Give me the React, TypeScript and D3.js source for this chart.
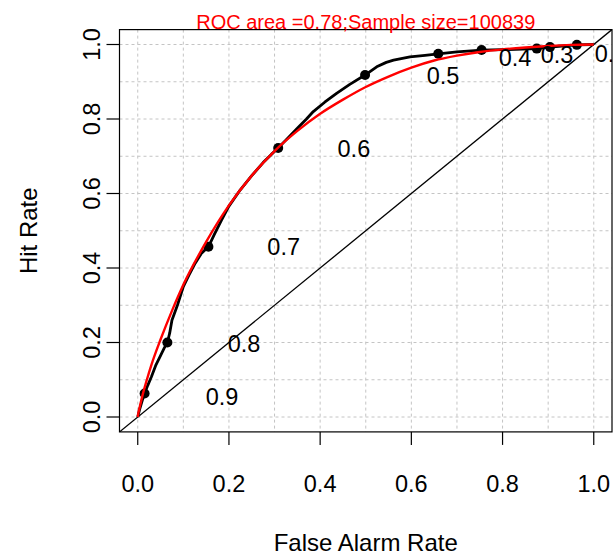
import React from "react";
import * as d3 from "d3";

// ---- data ----
const titleText = "ROC area =0.78;Sample size=100839";
const xAxisTitle = "False Alarm Rate";
const yAxisTitle = "Hit Rate";
const tickValues = [0, 0.2, 0.4, 0.6, 0.8, 1.0];
const gridValues = [0, 0.1, 0.2, 0.3, 0.4, 0.5, 0.6, 0.7, 0.8, 0.9, 1.0];

// empirical ROC (false alarm rate, hit rate)
const empiricalFAR = [0, 0.004, 0.01, 0.015, 0.022, 0.03, 0.04, 0.05, 0.058, 0.065, 0.07, 0.075, 0.087, 0.1, 0.112, 0.126, 0.14, 0.155, 0.168, 0.184, 0.2, 0.225, 0.25, 0.275, 0.293, 0.308, 0.33, 0.35, 0.37, 0.385, 0.41, 0.436, 0.465, 0.4985, 0.524, 0.545, 0.561, 0.597, 0.63, 0.659, 0.7, 0.754, 0.8, 0.875, 0.904, 0.93, 0.963, 1];
const empiricalHR = [0, 0.02, 0.045, 0.063, 0.085, 0.108, 0.14, 0.165, 0.185, 0.2, 0.225, 0.26, 0.3, 0.35, 0.38, 0.413, 0.44, 0.457, 0.49, 0.529, 0.566, 0.61, 0.648, 0.683, 0.705, 0.722, 0.75, 0.775, 0.8, 0.82, 0.845, 0.869, 0.893, 0.918, 0.94, 0.952, 0.958, 0.967, 0.971, 0.975, 0.98, 0.985, 0.986, 0.989, 0.993, 0.996, 0.999, 1];

// fitted (binormal) ROC
const fitFAR = [0, 0.001, 0.005, 0.01, 0.02, 0.03, 0.05, 0.075, 0.1, 0.15, 0.2, 0.25, 0.3, 0.35, 0.4, 0.45, 0.5, 0.55, 0.6, 0.65, 0.7, 0.75, 0.8, 0.85, 0.9, 0.95, 1];
const fitHR = [0, 0.008, 0.03, 0.056, 0.1, 0.14, 0.208, 0.285, 0.355, 0.47, 0.568, 0.648, 0.714, 0.768, 0.814, 0.852, 0.886, 0.914, 0.938, 0.957, 0.97, 0.98, 0.987, 0.992, 0.996, 0.999, 1];

// threshold points
const thresholdFAR = [0.015, 0.065, 0.155, 0.308, 0.4985, 0.659, 0.754, 0.875, 0.904, 0.963];
const thresholdHR = [0.063, 0.2, 0.457, 0.722, 0.918, 0.975, 0.985, 0.989, 0.993, 0.999];

// threshold labels and where they sit
const thresholdLabels = ["0.9", "0.8", "0.7", "0.6", "0.5", "0.4", "0.3", "0.2"];
const labelFAR = [0.185, 0.233, 0.32, 0.474, 0.6695, 0.8274, 0.9195, 1.038];
const labelHR = [0.055, 0.197, 0.456, 0.719, 0.915, 0.965, 0.972, 0.975];

const W = 615;
const H = 556;
const left = 119.5, right = 612, top = 29.6, bottom = 431.9;
const FONT = "'Liberation Sans', Arial, Helvetica, sans-serif";

export default function App() {
  const x = d3.scaleLinear().domain([-0.04, 1.04]).range([left, right]);
  const y = d3.scaleLinear().domain([-0.04, 1.04]).range([bottom, top]);

  const emp = empiricalFAR.map((v, i) => [v, empiricalHR[i]] as [number, number]);
  const fit = fitFAR.map((v, i) => [v, fitHR[i]] as [number, number]);

  const empLine = d3.line<[number, number]>().x(d => x(d[0])).y(d => y(d[1]));
  const fitLine = d3.line<[number, number]>().x(d => x(d[0])).y(d => y(d[1])).curve(d3.curveMonotoneX);

  return (
    <svg width={W} height={H} style={{ position: "absolute", left: 0, top: 0, background: "#fff" }} fontFamily={FONT}>
      <defs>
        <clipPath id="plotClip">
          <rect x={left} y={top} width={right - left} height={bottom - top} />
        </clipPath>
      </defs>
      <rect x={0} y={0} width={W} height={H} fill="#fff" />
      {/* grid */}
      <g stroke="#c4c4c4" strokeWidth={1} strokeDasharray="3,3">
        {gridValues.map(v => (
          <line key={"gx" + v} x1={x(v)} x2={x(v)} y1={top} y2={bottom} />
        ))}
        {gridValues.map(v => (
          <line key={"gy" + v} x1={left} x2={right} y1={y(v)} y2={y(v)} />
        ))}
      </g>
      <g clipPath="url(#plotClip)">
        {/* diagonal */}
        <line x1={x(-0.04)} y1={y(-0.04)} x2={x(1.04)} y2={y(1.04)} stroke="#000" strokeWidth={1.3} />
        {/* empirical */}
        <path d={empLine(emp) || ""} fill="none" stroke="#000" strokeWidth={2.8} strokeLinejoin="round" />
        {thresholdFAR.map((v, i) => (
          <circle key={"p" + i} cx={x(v)} cy={y(thresholdHR[i])} r={5} fill="#000" />
        ))}
        {/* fitted */}
        <path d={fitLine(fit) || ""} fill="none" stroke="#ff0000" strokeWidth={2.4} strokeLinejoin="round" />
        {thresholdLabels.map((lab, i) => (
          <text key={"l" + i} x={x(labelFAR[i])} y={y(labelHR[i])} dy="0.35em"
            textAnchor="middle" fontSize={23.5} fill="#000">{lab}</text>
        ))}
      </g>
      {/* box */}
      <rect x={left} y={top} width={right - left} height={bottom - top} fill="none" stroke="#000" strokeWidth={1.2} />
      {/* x axis */}
      {tickValues.map(v => (
        <g key={"xt" + v}>
          <line x1={x(v)} x2={x(v)} y1={bottom} y2={bottom + 13} stroke="#000" strokeWidth={1.2} />
          <text x={x(v)} y={491.5} textAnchor="middle" fontSize={23.5} fill="#000">{v.toFixed(1)}</text>
        </g>
      ))}
      {/* y axis */}
      {tickValues.map(v => (
        <g key={"yt" + v}>
          <line x1={left} x2={left - 13} y1={y(v)} y2={y(v)} stroke="#000" strokeWidth={1.2} />
          <text transform={`translate(100,${y(v)}) rotate(-90)`} textAnchor="middle" fontSize={23.5} fill="#000">{v.toFixed(1)}</text>
        </g>
      ))}
      <text x={(left + right) / 2} y={551} textAnchor="middle" fontSize={24} fill="#000">{xAxisTitle}</text>
      <text transform={`translate(37,${(top + bottom) / 2}) rotate(-90)`} textAnchor="middle" fontSize={24} fill="#000">{yAxisTitle}</text>
      <text x={(left + right) / 2} y={29} textAnchor="middle" fontSize={20} fill="#ff0000">{titleText}</text>
    </svg>
  );
}
